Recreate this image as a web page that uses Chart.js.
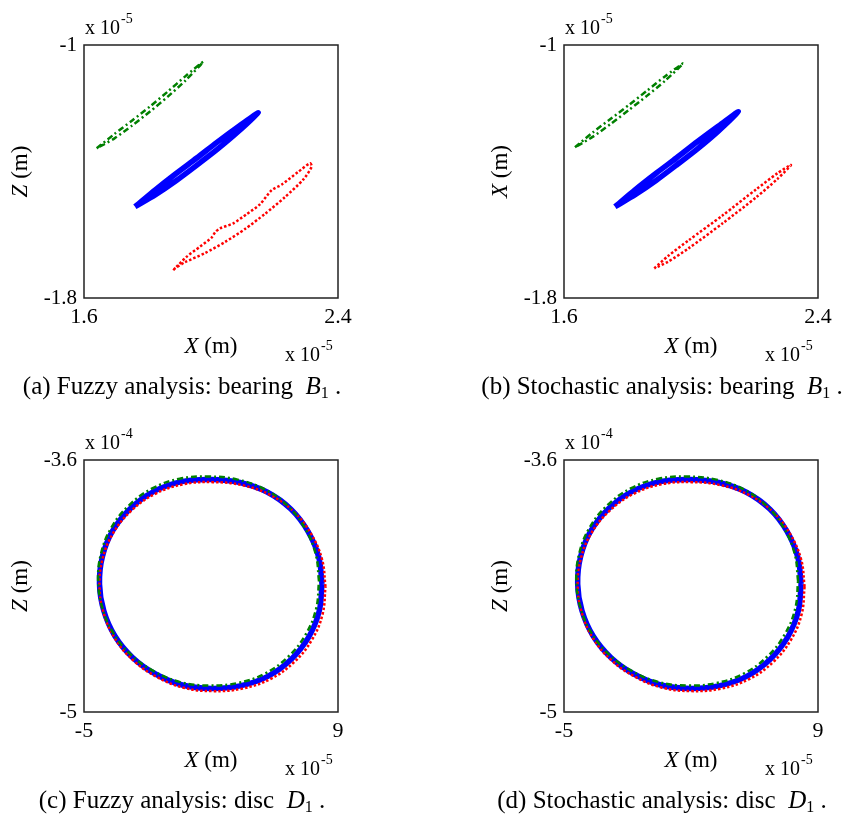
<!DOCTYPE html>
<html><head><meta charset="utf-8">
<script src="https://cdn.jsdelivr.net/npm/chart.js@4/dist/chart.umd.min.js"></script>
<style>
html,body{margin:0;padding:0;background:#fff;overflow:hidden;width:847px;height:816px}
canvas{position:absolute;display:block}
</style></head><body>
<canvas id="ca" width="480" height="415" style="left:0;top:0"></canvas>
<canvas id="cb" width="367" height="415" style="left:480px;top:0"></canvas>
<canvas id="cc" width="480" height="401" style="left:0;top:415px"></canvas>
<canvas id="cd" width="367" height="401" style="left:480px;top:415px"></canvas>
<script>
// ---- tick labels ----
const bearingXTicks = [1.6, 2.4];
const bearingZTicks = [-1.8, -1];
const discXTicks = [-5, 9];
const discZTicks = [-5, -3.6];

// ---- (a) fuzzy, bearing B1 (units 1e-5 m) ----
const aGreenX = [1.6400, 1.6961, 1.7518, 1.8079, 1.8639, 1.9197, 1.9757, 1.9197, 1.8639, 1.8079, 1.7518, 1.6961, 1.6400];
const aGreenZ = [-1.3267, -1.2812, -1.2386, -1.1944, -1.1473, -1.0983, -1.0528, -1.1123, -1.1633, -1.2104, -1.2546, -1.2952, -1.3267];
const aBlueX = [1.7606, 1.8254, 1.8901, 1.9548, 2.0195, 2.0843, 2.1490, 2.0843, 2.0195, 1.9548, 1.8901, 1.8254, 1.7606];
const aBlueZ = [-1.5113, -1.4572, -1.4062, -1.3575, -1.3072, -1.2592, -1.2141, -1.2752, -1.3302, -1.3805, -1.4292, -1.4732, -1.5113];
const aRedX = [1.881, 1.924, 1.965, 2.002, 2.013, 2.028, 2.070, 2.112, 2.154, 2.191, 2.223, 2.275, 2.312, 2.317, 2.291, 2.233, 2.170, 2.107, 2.044, 1.981, 1.918, 1.887, 1.881];
const aRedZ = [-1.712, -1.669, -1.638, -1.609, -1.592, -1.580, -1.564, -1.535, -1.504, -1.459, -1.441, -1.401, -1.374, -1.385, -1.425, -1.481, -1.534, -1.582, -1.623, -1.658, -1.687, -1.706, -1.712];

// ---- (b) stochastic, bearing B1 ----
const bGreenX = [1.6346, 1.6915, 1.7483, 1.8052, 1.8620, 1.9189, 1.9757, 1.9189, 1.8620, 1.8052, 1.7483, 1.6915, 1.6346];
const bGreenZ = [-1.3235, -1.2757, -1.2326, -1.1890, -1.1440, -1.0986, -1.0579, -1.1126, -1.1600, -1.2050, -1.2486, -1.2897, -1.3235];
const bBlueX = [1.7606, 1.8254, 1.8901, 1.9548, 2.0195, 2.0843, 2.1490, 2.0843, 2.0195, 1.9548, 1.8901, 1.8254, 1.7606];
const bBlueZ = [-1.5113, -1.4567, -1.4055, -1.3565, -1.3060, -1.2578, -1.2110, -1.2738, -1.3290, -1.3795, -1.4285, -1.4727, -1.5113];
const bRedX = [1.8844, 1.9276, 1.9921, 2.0998, 2.2072, 2.2718, 2.3150, 2.2718, 2.2072, 2.0998, 1.9921, 1.9276, 1.8844];
const bRedZ = [-1.7061, -1.6674, -1.6179, -1.5386, -1.4548, -1.4059, -1.3794, -1.4239, -1.4800, -1.5638, -1.6431, -1.6854, -1.7061];

// ---- (c) fuzzy, disc D1 (X in 1e-5 m, Z in 1e-4 m) ----
const cBlueX = [8.118, 7.936, 7.346, 6.404, 5.114, 3.598, 2.000, 0.391, -1.142, -2.443, -3.418, -3.986, -4.146, -3.909, -3.297, -2.327, -1.059, 0.413, 2.000, 3.604, 5.131, 6.426, 7.391, 7.964, 8.118];
const cBlueZ = [-4.289, -4.139, -3.997, -3.873, -3.779, -3.725, -3.708, -3.720, -3.774, -3.869, -3.993, -4.137, -4.289, -4.438, -4.578, -4.697, -4.789, -4.850, -4.869, -4.855, -4.802, -4.707, -4.583, -4.440, -4.289];
const cGreenX = [7.953, 7.773, 7.187, 6.252, 4.971, 3.466, 1.880, 0.283, -1.240, -2.531, -3.499, -4.063, -4.221, -3.986, -3.378, -2.415, -1.157, 0.305, 1.880, 3.472, 4.988, 6.274, 7.232, 7.801, 7.953];
const cGreenZ = [-4.273, -4.123, -3.981, -3.857, -3.763, -3.709, -3.692, -3.704, -3.758, -3.853, -3.977, -4.121, -4.273, -4.422, -4.562, -4.681, -4.773, -4.834, -4.853, -4.839, -4.786, -4.691, -4.567, -4.424, -4.273];
const cRedX = [8.310, 8.125, 7.525, 6.568, 5.258, 3.719, 2.096, 0.462, -1.094, -2.415, -3.405, -3.983, -4.146, -3.906, -3.284, -2.299, -1.011, 0.484, 2.096, 3.725, 5.275, 6.590, 7.570, 8.153, 8.310];
const cRedZ = [-4.304, -4.154, -4.012, -3.888, -3.794, -3.740, -3.723, -3.735, -3.789, -3.884, -4.008, -4.152, -4.304, -4.453, -4.593, -4.712, -4.804, -4.865, -4.884, -4.870, -4.817, -4.722, -4.598, -4.455, -4.304];

// ---- (d) stochastic, disc D1 ----
const dBlueX = [8.068, 7.885, 7.293, 6.347, 5.051, 3.529, 1.925, 0.310, -1.230, -2.536, -3.515, -4.085, -4.246, -4.008, -3.394, -2.420, -1.147, 0.332, 1.925, 3.535, 5.068, 6.369, 7.338, 7.913, 8.068];
const dBlueZ = [-4.289, -4.139, -3.997, -3.873, -3.779, -3.725, -3.708, -3.720, -3.774, -3.869, -3.993, -4.137, -4.289, -4.438, -4.578, -4.697, -4.789, -4.850, -4.869, -4.855, -4.802, -4.707, -4.583, -4.440, -4.289];
const dGreenX = [7.903, 7.722, 7.134, 6.195, 4.908, 3.397, 1.805, 0.202, -1.328, -2.624, -3.596, -4.162, -4.321, -4.085, -3.475, -2.508, -1.245, 0.224, 1.805, 3.403, 4.925, 6.217, 7.179, 7.750, 7.903];
const dGreenZ = [-4.273, -4.123, -3.981, -3.857, -3.763, -3.709, -3.692, -3.704, -3.758, -3.853, -3.977, -4.121, -4.273, -4.422, -4.562, -4.681, -4.773, -4.834, -4.853, -4.839, -4.786, -4.691, -4.567, -4.424, -4.273];
const dRedX = [8.260, 8.074, 7.472, 6.511, 5.195, 3.650, 2.021, 0.381, -1.182, -2.508, -3.502, -4.082, -4.246, -4.005, -3.381, -2.392, -1.099, 0.403, 2.021, 3.656, 5.212, 6.533, 7.517, 8.102, 8.260];
const dRedZ = [-4.304, -4.154, -4.012, -3.888, -3.794, -3.740, -3.723, -3.735, -3.789, -3.884, -4.008, -4.152, -4.304, -4.453, -4.593, -4.712, -4.804, -4.865, -4.884, -4.870, -4.817, -4.722, -4.598, -4.455, -4.304];

// ---- captions / labels ----
const captions = {
  a: ['(a) Fuzzy analysis: bearing  ', 'B', '1', ' .'],
  b: ['(b) Stochastic analysis: bearing  ', 'B', '1', ' .'],
  c: ['(c) Fuzzy analysis: disc  ', 'D', '1', ' .'],
  d: ['(d) Stochastic analysis: disc  ', 'D', '1', ' .']
};
const yTitleLetter = { a: 'Z', b: 'X', c: 'Z', d: 'Z' };
const yExponent = { a: '-5', b: '-5', c: '-4', d: '-4' };
const xExponent = '-5';

const FONT = "'Liberation Serif', 'Times New Roman', serif";
const pts = (xs, zs) => xs.map((x, i) => ({ x: x, y: zs[i] }));

function drawRich(ctx, parts, cx, cy) {
  let total = 0;
  parts.forEach(p => { ctx.font = (p.italic ? 'italic ' : '') + p.size + 'px ' + FONT; p.w = ctx.measureText(p.t).width; total += p.w; });
  let x = cx - total / 2;
  ctx.textAlign = 'left'; ctx.textBaseline = 'middle';
  parts.forEach(p => { ctx.font = (p.italic ? 'italic ' : '') + p.size + 'px ' + FONT; ctx.fillText(p.t, x, cy + (p.dy || 0)); x += p.w; });
}
function drawExp(ctx, x, y, e) {
  ctx.textAlign = 'left'; ctx.textBaseline = 'middle';
  ctx.font = '20px ' + FONT;
  ctx.fillText('x 10', x, y);
  const w = ctx.measureText('x 10').width;
  ctx.font = '14px ' + FONT;
  ctx.fillText(e, x + w + 1, y - 10);
}

const decor = {
  id: 'decor',
  afterDraw(chart, args, o) {
    const ctx = chart.ctx, a = chart.chartArea;
    ctx.save();
    ctx.strokeStyle = '#222'; ctx.lineWidth = 1.5;
    ctx.strokeRect(a.left, a.top, a.right - a.left, a.bottom - a.top);
    ctx.fillStyle = '#000';
    drawExp(ctx, a.left + 1, a.top - 16, o.yExp);
    drawExp(ctx, a.right - 53, a.bottom + 58, o.xExp);
    drawRich(ctx, [{ t: 'X', size: 23, italic: true }, { t: ' (m)', size: 23 }], (a.left + a.right) / 2, a.bottom + 49);
    ctx.save();
    ctx.translate(a.left - 63, (a.top + a.bottom) / 2);
    ctx.rotate(-Math.PI / 2);
    drawRich(ctx, [{ t: o.yLetter, size: 23, italic: true }, { t: ' (m)', size: 23 }], 0, 0);
    ctx.restore();
    const c = o.caption;
    drawRich(ctx, [{ t: c[0], size: 25 }, { t: c[1], size: 25, italic: true }, { t: c[2], size: 16, dy: 7 }, { t: c[3], size: 25 }], 182, a.bottom + 89);
    ctx.restore();
  }
};

function ds(data, color, width, dash, order, tension) {
  return { data: data, showLine: true, fill: false, pointRadius: 0, borderColor: color, borderWidth: width,
           borderDash: dash, order: order, tension: tension, borderJoinStyle: 'round' };
}

function makeChart(id, key, W, H, xr, zr, xt, zt, series, tension, blueW) {
  const boxBottom = (H === 415) ? 298 : 297;
  new Chart(document.getElementById(id), {
    type: 'scatter',
    data: { datasets: [
      ds(series[0], '#008000', 2.5, [6, 3, 2, 3], 0, tension),
      ds(series[1], '#ff0000', 2.5, [2.5, 2], 1, tension),
      ds(series[2], '#0000ff', blueW, [], 2, tension)
    ] },
    options: {
      responsive: false, animation: false, events: [],
      layout: { padding: { left: 0, top: 45, right: W - 338, bottom: H - boxBottom - 60 } },
      plugins: {
        legend: { display: false }, tooltip: { enabled: false },
        decor: { yExp: yExponent[key], xExp: xExponent, yLetter: yTitleLetter[key], caption: captions[key] }
      },
      scales: {
        x: { type: 'linear', min: xr[0], max: xr[1],
             afterBuildTicks: s => { s.ticks = xt.map(v => ({ value: v })); },
             afterFit: s => { s.height = 60; },
             grid: { display: false, drawTicks: false }, border: { display: false },
             ticks: { font: { family: FONT, size: 22 }, color: '#000', padding: 6, maxRotation: 0, autoSkip: false, callback: v => String(v) } },
        y: { type: 'linear', min: zr[0], max: zr[1],
             afterBuildTicks: s => { s.ticks = zt.map(v => ({ value: v })); },
             afterFit: s => { s.width = 84; },
             grid: { display: false, drawTicks: false }, border: { display: false },
             ticks: { font: { family: FONT, size: 21 }, color: '#000', padding: 7, autoSkip: false, callback: v => String(v) } }
      }
    },
    plugins: [decor]
  });
}

makeChart('ca', 'a', 480, 415, [1.6, 2.4], [-1.8, -1], bearingXTicks, bearingZTicks,
  [pts(aGreenX, aGreenZ), pts(aRedX, aRedZ), pts(aBlueX, aBlueZ)], 0.25, 5.5);
makeChart('cb', 'b', 367, 415, [1.6, 2.4], [-1.8, -1], bearingXTicks, bearingZTicks,
  [pts(bGreenX, bGreenZ), pts(bRedX, bRedZ), pts(bBlueX, bBlueZ)], 0.25, 5.5);
makeChart('cc', 'c', 480, 401, [-5, 9], [-5, -3.6], discXTicks, discZTicks,
  [pts(cGreenX, cGreenZ), pts(cRedX, cRedZ), pts(cBlueX, cBlueZ)], 0.4, 5.5);
makeChart('cd', 'd', 367, 401, [-5, 9], [-5, -3.6], discXTicks, discZTicks,
  [pts(dGreenX, dGreenZ), pts(dRedX, dRedZ), pts(dBlueX, dBlueZ)], 0.4, 5.5);
</script>
</body></html>
